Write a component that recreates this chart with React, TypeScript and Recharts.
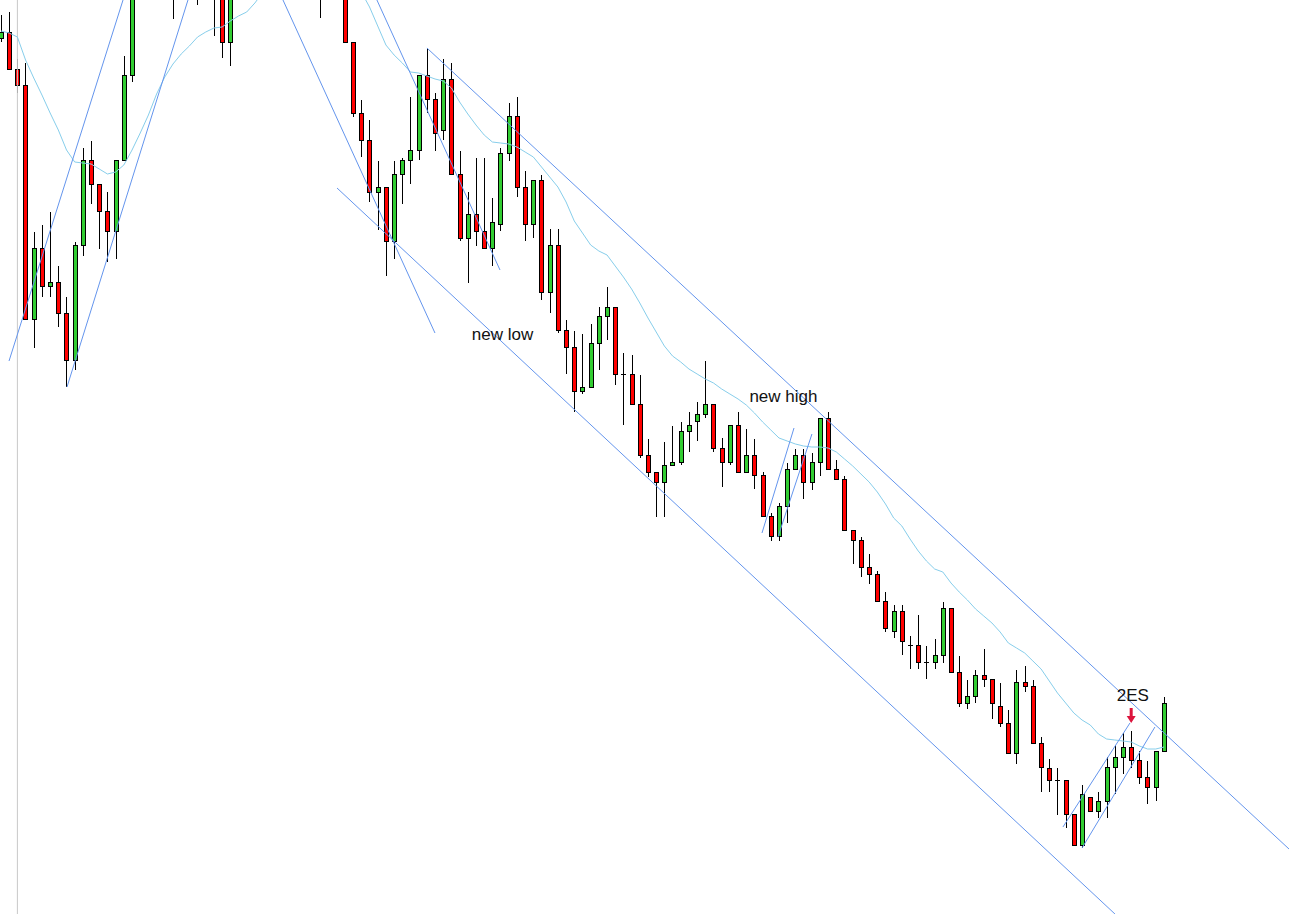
import { ComposedChart, Bar, Line, XAxis, YAxis, ReferenceLine, ReferenceDot } from 'recharts';

// price per bar (index 0..142)
const open = [
  876, 882, 845, 829, 595, 666, 628, 632, 601, 554,
  669, 754, 730, 703, 683, 754, 839, 944, 975, 955,
  1005, 982, 945, 995, 975, 942, 985, 935, 872, 950,
  1025, 1065, 1035, 1105, 1075, 1015, 1045, 985, 1005, 955,
  935, 965, 940, 872, 801, 774, 722, 727, 673, 740,
  754, 764, 839, 815, 784, 835, 740, 676, 700, 683,
  666, 690, 761, 798, 727, 690, 734, 622, 669, 584,
  567, 523, 527, 571, 598, 607, 540, 540, 510, 459,
  442, 432, 449, 452, 483, 493, 500, 510, 466, 452,
  489, 442, 459, 439, 398, 378, 408, 445, 459, 432,
  452, 496, 445, 435, 384, 374, 347, 340, 313, 283,
  303, 269, 269, 252, 252, 259, 306, 242, 211, 218,
  239, 235, 208, 191, 161, 232, 228, 171, 146, 134,
  134, 100, 69, 117, 103, 113, 147, 157, 167, 154,
  137, 127, 163,
];

const high = [
  899, 902, 855, 851, 682, 689, 702, 648, 617, 672,
  766, 773, 730, 722, 754, 858, 958, 990, 992, 1015,
  1022, 998, 1010, 1012, 985, 1000, 995, 945, 965, 1035,
  1085, 1095, 1125, 1135, 1085, 1065, 1055, 1025, 1015, 975,
  985, 980, 950, 872, 814, 794, 753, 727, 753, 756,
  817, 839, 866, 821, 855, 851, 763, 722, 756, 756,
  716, 766, 811, 817, 743, 734, 739, 685, 685, 594,
  583, 580, 590, 607, 627, 607, 561, 559, 539, 475,
  442, 472, 488, 492, 502, 512, 553, 510, 476, 489,
  502, 485, 475, 442, 401, 411, 451, 465, 465, 461,
  496, 502, 454, 438, 384, 377, 360, 343, 322, 309,
  309, 278, 299, 268, 275, 312, 306, 258, 234, 244,
  265, 235, 231, 204, 244, 248, 234, 177, 155, 146,
  134, 100, 129, 117, 122, 157, 169, 181, 183, 163,
  153, 163, 217,
];

const low = [
  872, 845, 821, 595, 566, 617, 617, 587, 527, 544,
  658, 710, 665, 652, 655, 754, 832, 935, 948, 945,
  970, 895, 935, 962, 909, 925, 878, 856, 848, 940,
  1015, 1020, 1025, 1055, 995, 1000, 965, 955, 935, 896,
  920, 918, 872, 797, 757, 712, 684, 638, 655, 710,
  730, 754, 801, 763, 774, 740, 673, 631, 668, 666,
  648, 683, 753, 717, 673, 676, 614, 601, 581, 540,
  502, 520, 527, 544, 574, 529, 489, 510, 456, 437,
  397, 397, 449, 449, 462, 473, 496, 462, 427, 449,
  442, 442, 425, 398, 373, 373, 391, 445, 415, 424,
  438, 445, 435, 384, 350, 337, 330, 313, 282, 276,
  259, 245, 245, 235, 245, 251, 242, 207, 205, 211,
  227, 195, 187, 161, 150, 222, 171, 122, 122, 99,
  86, 69, 66, 103, 96, 96, 120, 140, 146, 130,
  110, 113, 163,
];

const close = [
  882, 845, 829, 595, 666, 628, 632, 601, 554, 669,
  754, 730, 703, 683, 754, 839, 944, 975, 955, 1005,
  982, 945, 995, 975, 942, 985, 935, 872, 950, 1025,
  1065, 1035, 1105, 1075, 1015, 1045, 985, 1005, 955, 935,
  965, 940, 872, 801, 774, 722, 727, 673, 740, 754,
  764, 839, 815, 781, 835, 740, 676, 700, 683, 666,
  692, 761, 798, 727, 690, 734, 622, 669, 584, 567,
  523, 527, 571, 598, 607, 540, 540, 510, 459, 442,
  432, 449, 452, 483, 489, 500, 510, 466, 452, 489,
  442, 459, 439, 398, 378, 408, 445, 459, 432, 452,
  496, 445, 435, 384, 374, 347, 340, 313, 286, 303,
  273, 269, 252, 252, 259, 306, 242, 211, 218, 239,
  235, 211, 191, 161, 232, 228, 171, 147, 134, 134,
  100, 69, 120, 103, 113, 147, 157, 167, 154, 137,
  127, 163, 211,
];

// moving average
const ma = [
  883, 881, 877, 854, 836, 819, 801, 784, 764, 752,
  751, 750, 745, 740, 742, 749, 764, 781, 799, 820,
  837, 850, 860, 868, 877, 882, 886, 887, 893, 898,
  902, 911, 922, 934, 944, 952, 959, 964, 966, 964,
  959, 951, 942, 932, 922, 907, 888, 869, 859, 851,
  842, 841, 838, 835, 833, 826, 812, 800, 789, 779,
  772, 771, 770, 767, 762, 757, 747, 737, 727, 712,
  693, 681, 669, 663, 659, 648, 637, 625, 611, 596,
  582, 568, 558, 552, 545, 540, 535, 531, 525, 520,
  515, 509, 501, 492, 484, 476, 473, 470, 468, 467,
  467, 466, 462, 455, 448, 440, 432, 422, 410, 396,
  388, 375, 363, 353, 345, 342, 331, 322, 314, 305,
  298, 291, 282, 271, 266, 261, 253, 245, 233, 221,
  211, 201, 194, 189, 180, 175, 174, 173, 172, 168,
  165, 165, 167,
];

// drawn trend lines: bar index / price
const trendLines = [
  { x1: 0.98, y1: 553, x2: 14.9, y2: 914 },
  { x1: 8.06, y1: 527, x2: 22.83, y2: 914 },
  { x1: 34.43, y1: 914, x2: 52.99, y2: 581 },
  { x1: 45.9, y1: 914, x2: 60.93, y2: 644 },
  { x1: 41.03, y1: 726, x2: 136.02, y2: 0 },
  { x1: 52.01, y1: 866, x2: 157.27, y2: 65 },
  { x1: 92.92, y1: 381, x2: 96.83, y2: 486 },
  { x1: 94.87, y1: 377, x2: 99.02, y2: 480 },
  { x1: 129.67, y1: 87, x2: 137.85, y2: 191 },
  { x1: 132.0, y1: 66, x2: 140.9, y2: 187 },
];

const notes = [
  { text: 'new low', x: 61.23, y: 574 },
  { text: 'new high', x: 95.54, y: 512 },
  { text: '2ES', x: 138.2, y: 213 },
];

const signal = { x: 138, y: 199 };

const data = open.map((o, i) => ({
  i,
  open: o,
  high: high[i],
  low: low[i],
  close: close[i],
  ma: ma[i],
}));

const UP = '#32CD32';
const DOWN = '#FF0000';

function Candle(props: any) {
  const { x, y, width, height, payload } = props;
  if (!payload) return null;
  const { open, close, high, low } = payload;
  const top = Math.min(y, y + height);
  const h = Math.abs(height);
  const k = high === low ? 0 : h / (high - low);
  const py = (p: number) => top + (high - p) * k;
  const cx = Math.round(x + width / 2);
  const bTop = Math.round(py(Math.max(open, close))) + 0.5;
  const bBot = Math.round(py(Math.min(open, close))) + 0.5;
  const up = close > open;
  return (
    <g>
      <line x1={cx + 0.5} x2={cx + 0.5} y1={top} y2={top + h} stroke="#000" strokeWidth={1} />
      {bBot - bTop < 1 ? (
        <line x1={cx - 2} x2={cx + 3} y1={bTop} y2={bTop} stroke="#000" strokeWidth={1} />
      ) : (
        <rect
          x={cx - 1.5}
          y={bTop}
          width={4}
          height={bBot - bTop}
          fill={up ? UP : DOWN}
          stroke="#000"
          strokeWidth={1}
        />
      )}
    </g>
  );
}

export default function App() {
  return (
    <div style={{ position: 'absolute', left: 0, top: 0, width: 1289, height: 914, background: '#fff' }}>
      <ComposedChart width={1289} height={914} data={data} margin={{ top: 0, right: 0, bottom: 0, left: 0 }}>
        <XAxis dataKey="i" type="number" domain={[-0.122, 157.27]} allowDataOverflow hide />
        <YAxis type="number" domain={[0, 914]} allowDataOverflow hide />
        <ReferenceLine x={2} stroke="#C8C8C8" strokeWidth={1} ifOverflow="hidden" />
        <Bar
          dataKey={(d: any) => [d.low, d.high]}
          barSize={6}
          shape={<Candle />}
          isAnimationActive={false}
        />
        <Line
          dataKey="ma"
          type="linear"
          stroke="#87CEEB"
          strokeWidth={1}
          dot={false}
          activeDot={false}
          isAnimationActive={false}
        />
        {trendLines.map((t, k) => (
          <ReferenceLine
            key={k}
            segment={[{ x: t.x1, y: t.y1 }, { x: t.x2, y: t.y2 }]}
            stroke="#6495ED"
            strokeWidth={1}
            ifOverflow="hidden"
          />
        ))}
        {notes.map((n) => (
          <ReferenceDot
            key={n.text}
            x={n.x}
            y={n.y}
            r={0}
            ifOverflow="visible"
            shape={(p: any) => (
              <text
                x={p.cx}
                y={p.cy}
                textAnchor="middle"
                fontSize={17}
                fontFamily="'Liberation Sans', Arial, sans-serif"
                fill="#111"
              >
                {n.text}
              </text>
            )}
          />
        ))}
        <ReferenceDot
          x={signal.x}
          y={signal.y}
          r={0}
          ifOverflow="visible"
          shape={(p: any) => (
            <path
              d={`M${p.cx - 1.5},${p.cy - 7} L${p.cx + 1.5},${p.cy - 7} L${p.cx + 1.5},${p.cy + 1} L${p.cx + 4.5},${p.cy + 1} L${p.cx},${p.cy + 8} L${p.cx - 4.5},${p.cy + 1} L${p.cx - 1.5},${p.cy + 1} Z`}
              fill="#DC143C"
            />
          )}
        />
      </ComposedChart>
    </div>
  );
}
